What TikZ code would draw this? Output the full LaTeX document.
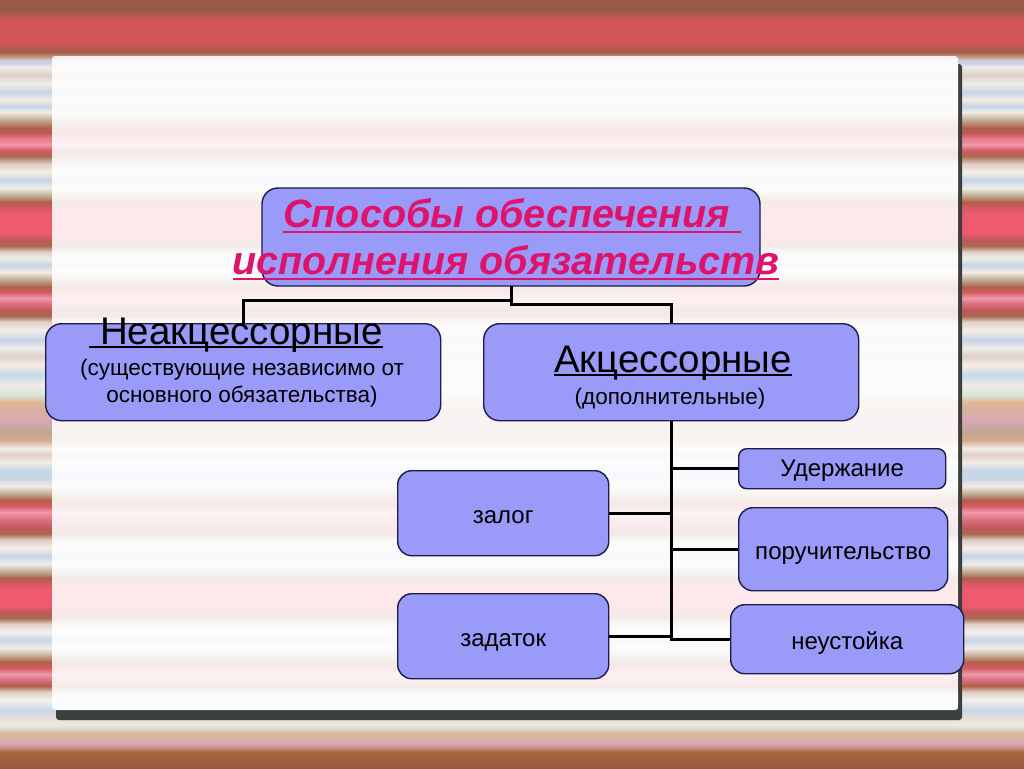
\documentclass[tikz,border=0pt]{standalone}
\usepackage{fontspec}
\setmainfont{Liberation Sans}
\usetikzlibrary{calc}
% stripe colours
\definecolor{s01}{HTML}{985A3C}\definecolor{s02}{HTML}{A8643C}\definecolor{s03}{HTML}{C89080}
\definecolor{s04}{HTML}{D8A8C0}\definecolor{s05}{HTML}{D8B0A0}\definecolor{s06}{HTML}{E0B898}
\definecolor{s07}{HTML}{D8E0D8}\definecolor{s08}{HTML}{F0E8E0}\definecolor{s09}{HTML}{E8DCD8}
\definecolor{s10}{HTML}{C8D8E8}\definecolor{s11}{HTML}{F4F0EC}\definecolor{s12}{HTML}{E0D0C8}
\definecolor{br}{HTML}{A86A50}\definecolor{rd}{HTML}{C05858}\definecolor{pk}{HTML}{F098A8}
\definecolor{pk2}{HTML}{D87080}\definecolor{rd2}{HTML}{D85A64}\definecolor{br2}{HTML}{B06048}
\definecolor{tn}{HTML}{C0A890}\definecolor{lt}{HTML}{F0ECE8}\definecolor{bl}{HTML}{C8D4E8}
\definecolor{hot}{HTML}{F05A70}\definecolor{cr}{HTML}{F4ECE6}\definecolor{lv}{HTML}{D8A8B8}
\definecolor{tn2}{HTML}{D8A88C}\definecolor{gr}{HTML}{D8E4D8}\definecolor{top1}{HTML}{9A5A4A}
\definecolor{top2}{HTML}{D25659}\definecolor{top3}{HTML}{A05C4A}\definecolor{top4}{HTML}{C89A80}
\definecolor{lav}{HTML}{D8C8D8}\definecolor{pkl}{HTML}{E87888}
\pgfdeclareverticalshading{bgstripes}{1024pt}{%
color(0pt)=(s01);color(16pt)=(s02);color(20pt)=(s03);color(25pt)=(s04);color(30pt)=(s05);
color(35pt)=(s06);color(40pt)=(s07);color(44pt)=(s08);color(50pt)=(s09);color(58pt)=(s10);
color(68pt)=(s11);color(76pt)=(s12);color(82pt)=(br2);color(88pt)=(pk2);color(94pt)=(pk);
color(100pt)=(rd2);color(106pt)=(br2);color(112pt)=(tn);color(120pt)=(lt);color(128pt)=(bl);
color(136pt)=(s11);color(144pt)=(s12);color(150pt)=(br);color(156pt)=(rd);color(162pt)=(hot);
color(178pt)=(hot);color(184pt)=(rd2);color(190pt)=(br2);color(196pt)=(tn);color(204pt)=(lt);
color(212pt)=(bl);color(220pt)=(cr);color(228pt)=(s12);color(234pt)=(br);color(240pt)=(rd);
color(248pt)=(pk2);color(256pt)=(pk);color(262pt)=(rd2);color(268pt)=(br2);color(274pt)=(tn);
color(282pt)=(lt);color(290pt)=(bl);color(298pt)=(s10);color(306pt)=(cr);color(313pt)=(s12);
color(320pt)=(lt);color(328pt)=(tn2);color(336pt)=(tn);color(348pt)=(lv);color(358pt)=(s05);
color(366pt)=(s06);color(373pt)=(gr);color(383pt)=(lt);color(393pt)=(s10);color(403pt)=(cr);
color(412pt)=(s12);color(420pt)=(lt);color(428pt)=(bl);color(438pt)=(cr);color(446pt)=(s12);
color(452pt)=(br);color(458pt)=(rd);color(464pt)=(pk2);color(470pt)=(pk);color(476pt)=(rd2);
color(481pt)=(br2);color(488pt)=(tn);color(496pt)=(cr);color(503pt)=(bl);color(510pt)=(lt);
color(516pt)=(s12);color(522pt)=(br);color(528pt)=(rd);color(536pt)=(hot);color(553pt)=(hot);
color(560pt)=(rd2);color(566pt)=(br2);color(572pt)=(tn);color(580pt)=(lt);color(588pt)=(bl);
color(596pt)=(cr);color(604pt)=(s12);color(612pt)=(br);color(618pt)=(rd2);color(623pt)=(pk);
color(630pt)=(pkl);color(635pt)=(rd);color(640pt)=(br2);color(648pt)=(tn);color(656pt)=(lt);
color(662pt)=(bl);color(668pt)=(cr);color(676pt)=(bl);color(684pt)=(lt);color(693pt)=(s12);
color(701pt)=(lt);color(705pt)=(bl);color(708pt)=(lav);color(711pt)=(top4);color(716pt)=(top3);
color(726pt)=(top2);color(748pt)=(top2);color(758pt)=(top1);color(768pt)=(top1)}
\definecolor{boxfill}{HTML}{9A9AF8}
\definecolor{boxline}{HTML}{1C1C48}
\definecolor{titlecol}{HTML}{E0136C}
\definecolor{shadowcol}{HTML}{3C403C}
\newcommand{\myul}[3]{\setbox0\hbox{#3}\rlap{\rule[-#1]{\wd0}{#2}}\box0}
\tikzset{
  box/.style={draw=boxline, line width=1.4pt, fill=boxfill, rounded corners=#1},
  box/.default=14pt,
  conn/.style={draw=black, line width=3pt},
  small/.style={font=\fontsize{22.5}{26}\selectfont, text=black},
  lbl/.style={font=\fontsize{24}{28}\selectfont, text=black, text height=21pt, text depth=1pt},
  big/.style={font=\fontsize{38.5}{44}\selectfont, text=black},
  ttl/.style={font=\fontsize{39.5}{44}\selectfont\bfseries\itshape, text=titlecol}
}
\begin{document}
\begin{tikzpicture}[x=1pt,y=-1pt]
\useasboundingbox (0,0) rectangle (1024,768);
% background stripes
\node[inner sep=0pt, outer sep=0pt, anchor=south west] (bg) at (0,768) {\pgfuseshading{bgstripes}};
% panel shadow and panel
\fill[shadowcol, rounded corners=3pt] (56,64) rectangle (962,720);
\begin{scope}
  \clip[rounded corners=3pt] (52,56) rectangle (958,710);
  \node[inner sep=0pt, outer sep=0pt, anchor=south west] at (0,768) {\pgfuseshading{bgstripes}};
  \fill[white, opacity=0.87] (52,56) rectangle (958,710);
\end{scope}
% boxes
\path[box=16pt] (262,188) rectangle (760,286);
\coordinate (titleS) at (511,286);
\node[box=16pt, minimum width=395pt, minimum height=97pt, anchor=north west] (neak) at (45,323) {};
\node[box=16pt, minimum width=375pt, minimum height=97pt, anchor=north west] (akc) at (483,323) {};
\node[box=8pt, minimum width=207pt, minimum height=40pt, anchor=north west, lbl, text height=19pt, text depth=3pt] (uder) at (738,448) {Удержание};
\node[box, minimum width=211pt, minimum height=85pt, anchor=north west, lbl] (zalog) at (397,470) {залог};
\node[box, minimum width=209pt, minimum height=83pt, anchor=north west, lbl] (poruch) at (738,507) {поручительство};
\node[box, minimum width=211pt, minimum height=85pt, anchor=north west, lbl] (zadatok) at (397,593) {задаток};
\node[box, minimum width=233pt, minimum height=69pt, anchor=north west, lbl] (neust) at (730,604) {неустойка};
% connectors
\draw[conn] (titleS) -- ++(0,14) -| (neak.north);
\draw[conn] (titleS) -- ++(0,18) -| (akc.north);
\draw[conn] (akc.south) |- (neust.west);
\draw[conn] (zalog.east) -- (zalog.east -| akc.south);
\draw[conn] (zadatok.east) -- (zadatok.east -| akc.south);
\draw[conn] (uder.west) -- (uder.west -| akc.south);
\draw[conn] (poruch.west) -- (poruch.west -| akc.south);
% title text
\node[ttl, anchor=base, inner sep=0pt] (t1) at (512,227) {\myul{6pt}{2pt}{Способы обеспечения\ }};
\node[ttl, anchor=base, inner sep=0pt] (t2) at (506,274) {\myul{6pt}{2pt}{исполнения обязательств}};
% box texts
\node[big, anchor=base, inner sep=0pt] (neakT) at (236,344) {\myul{4pt}{2pt}{\ Неакцессорные}};
\node[small, anchor=base, inner sep=0pt] (neakS1) at (242,375) {(существующие независимо от};
\node[small, anchor=base, inner sep=0pt] (neakS2) at (242,402) {основного обязательства)};
\node[big, anchor=base, inner sep=0pt] (akcT) at (673,372) {\myul{4pt}{2pt}{Акцессорные}};
\node[small, anchor=base, inner sep=0pt] (akcS) at (670,404) {(дополнительные)};
\end{tikzpicture}
\end{document}
